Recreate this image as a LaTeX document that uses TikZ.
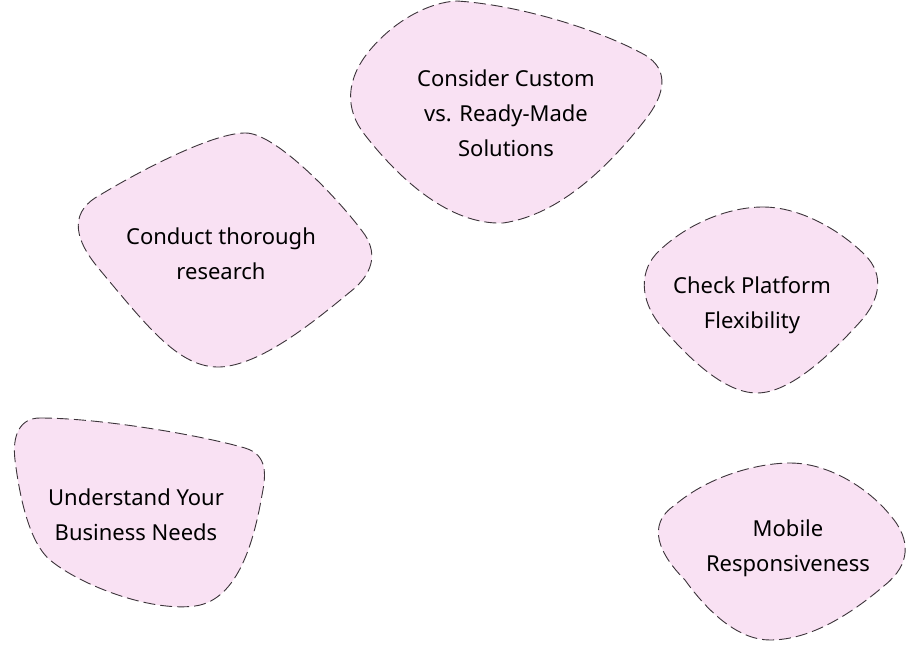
\documentclass[tikz,border=0pt]{standalone}
\usepackage{fontspec}
\setmainfont{Noto Sans}
\definecolor{blobpink}{RGB}{249,225,243}
\definecolor{dashgray}{RGB}{60,52,58}
\tikzset{
  blob/.style={fill=blobpink,draw=dashgray,line width=0.9pt,dash pattern=on 12pt off 5pt},
  label/.style={align=center,font=\fontsize{22}{35}\selectfont,text=black,inner sep=0pt}
}

\begin{document}
\begin{tikzpicture}[x=1pt,y=-1pt]
  \useasboundingbox (0,0) rectangle (910,645);
  % blobs:
  \draw[blob] (457,1) .. controls (520,5) and (600,30) .. (645,55)
    .. controls (670,70) and (665,95) .. (645,120)
    .. controls (610,165) and (560,215) .. (503,223)
    .. controls (450,225) and (400,180) .. (365,135)
    .. controls (345,110) and (345,80) .. (370,50)
    .. controls (395,20) and (430,2) .. (457,1) -- cycle;
  \draw[blob] (245,133) .. controls (275,132) and (340,200) .. (365,235)
    .. controls (378,255) and (372,275) .. (350,292)
    .. controls (310,325) and (260,365) .. (220,367)
    .. controls (180,368) and (150,330) .. (100,270)
    .. controls (70,235) and (72,210) .. (100,195)
    .. controls (150,165) and (215,133) .. (245,133) -- cycle;
  \draw[blob] (763,207) .. controls (800,207) and (840,230) .. (865,255)
    .. controls (885,275) and (880,300) .. (860,322)
    .. controls (830,355) and (790,393) .. (757,393)
    .. controls (725,393) and (690,360) .. (660,325)
    .. controls (640,300) and (638,270) .. (660,250)
    .. controls (690,222) and (730,207) .. (763,207) -- cycle;
  \draw[blob] (40,418) .. controls (100,418) and (200,435) .. (245,448)
    .. controls (268,455) and (266,475) .. (262,495)
    .. controls (255,535) and (240,600) .. (195,606)
    .. controls (150,612) and (80,585) .. (50,560)
    .. controls (30,543) and (20,500) .. (15,460)
    .. controls (12,435) and (20,418) .. (40,418) -- cycle;
  \draw[blob] (790,463) .. controls (830,463) and (870,490) .. (890,515)
    .. controls (912,540) and (910,565) .. (885,585)
    .. controls (850,615) and (810,640) .. (770,640)
    .. controls (740,640) and (710,615) .. (685,580)
    .. controls (660,555) and (645,525) .. (675,505)
    .. controls (710,475) and (760,463) .. (790,463) -- cycle;

  % texts:
  \node[label] (custom) at (506,113) {Consider Custom\\vs. Ready-Made\\Solutions};
  \node[label] (research) at (221,254) {Conduct thorough\\research};
  \node[label] (platform) at (752,305) {Check Platform\\Flexibility};
  \node[label] (needs) at (136,515) {Understand Your\\Business Needs};
  \node[label] (mobile) at (788,548) {Mobile\\Responsiveness};
\end{tikzpicture}
\end{document}
